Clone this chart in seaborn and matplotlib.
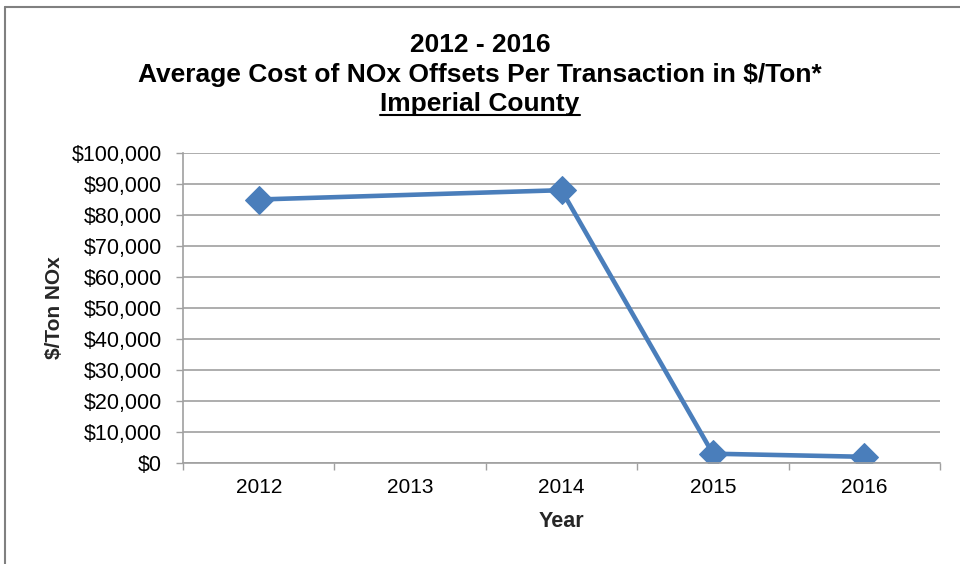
import matplotlib
matplotlib.use("Agg")
import matplotlib.pyplot as plt
import seaborn as sns
import pandas as pd
import numpy as np
from matplotlib.lines import Line2D

years = ["2012", "2013", "2014", "2015", "2016"]
cost = [85000, np.nan, 88000, 3000, 2000]
yticks = list(range(0, 100001, 10000))

sns.set_theme(style="white")
plt.rcParams["font.family"] = ["Liberation Sans", "DejaVu Sans"]

df = pd.DataFrame({"pos": range(len(years)), "year": years, "cost": cost}).dropna()

fig = plt.figure(figsize=(9.6, 5.64), dpi=100)
ax = fig.add_axes([183/960, 1-463/564, (940-183)/960, (463-153)/564])

color = "#4A7EBB"
sns.lineplot(data=df, x="pos", y="cost", ax=ax, color=color, linewidth=3.3,
             marker="D", markersize=14, markeredgecolor=color, markerfacecolor=color)

ax.set_xlim(-0.5, len(years) - 0.5)
ax.set_ylim(0, 100000)
ax.set_yticks(yticks)
ax.set_yticklabels([f"${v:,.0f}" for v in yticks], fontsize=15.5, color="black")
ax.set_xticks(np.arange(-0.5, len(years), 1.0))
ax.set_xticklabels([""] * (len(years) + 1))
ax.set_xticks(range(len(years)), minor=True)
ax.set_xticklabels(years, minor=True, fontsize=15, color="black")
ax.tick_params(axis="x", which="major", direction="out", length=5, width=1, color="#A0A0A0", bottom=True)
ax.tick_params(axis="x", which="minor", length=0, pad=11, bottom=True)
ax.tick_params(axis="y", direction="out", length=5, width=1, color="#A0A0A0", left=True, pad=10)

ax.grid(axis="y", color="#A0A0A0", linewidth=1.2)
ax.grid(axis="x", visible=False)
for s in ["top", "right"]:
    ax.spines[s].set_visible(False)
for s in ["left", "bottom"]:
    ax.spines[s].set_color("#A0A0A0")
    ax.spines[s].set_linewidth(1.2)

ax.set_xlabel("Year", fontsize=15.5, fontweight="bold", labelpad=10)
ax.set_ylabel("$/Ton NOx", fontsize=15, fontweight="bold", labelpad=6)

tkw = dict(ha="center", va="center", fontsize=19, fontweight="bold", color="black")
fig.text(480/960, 1-45/564, "2012 - 2016", **tkw)
fig.text(480/960, 1-75/564, "Average Cost of NOx Offsets Per Transaction in $/Ton*", **tkw)
t3 = fig.text(480/960, 1-104/564, "Imperial County", **tkw)

fig.canvas.draw()
bb = t3.get_window_extent(renderer=fig.canvas.get_renderer())
uy = (bb.y0 + 1.5) / fig.bbox.height
fig.add_artist(Line2D([bb.x0 / fig.bbox.width, bb.x1 / fig.bbox.width], [uy, uy],
                      transform=fig.transFigure, color="black", linewidth=1.5))

# outer chart border (left and top)
fig.add_artist(Line2D([5/960, 5/960], [0, 1-7/564], transform=fig.transFigure, color="#808080", linewidth=1.5))
fig.add_artist(Line2D([5/960, 1], [1-7/564, 1-7/564], transform=fig.transFigure, color="#808080", linewidth=1.5))

fig.savefig("out.png", dpi=100)
